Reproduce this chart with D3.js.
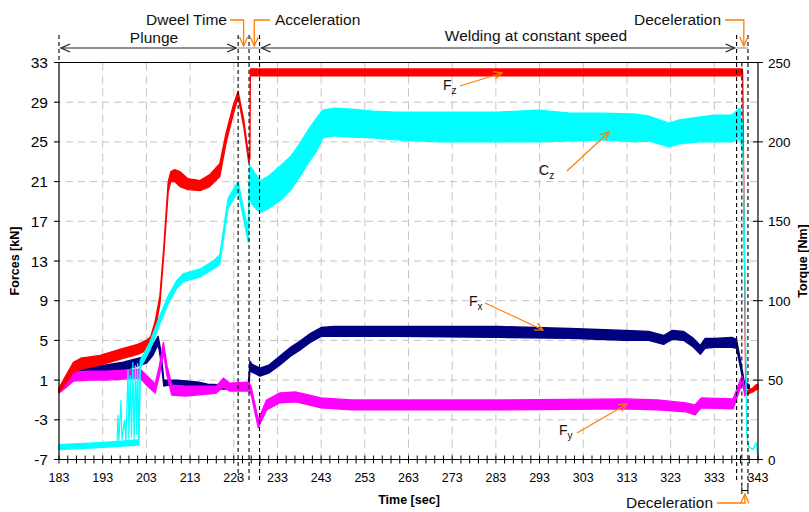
<!DOCTYPE html>
<html>
<head>
<meta charset="utf-8">
<script src="https://cdn.jsdelivr.net/npm/d3@7"></script>
<style>
  body { margin: 0; background: #fff; }
  text { font-family: "Liberation Sans", Arial, sans-serif; }
</style>
</head>
<body>
<div id="chart"></div>
<script>
// time ticks, force ticks, torque ticks
var timeTicks = [183, 193, 203, 213, 223, 233, 243, 253, 263, 273, 283, 293, 303, 313, 323, 333, 343]
var forceTicks = [-7, -3, 1, 5, 9, 13, 17, 21, 25, 29, 33]
var torqueTicks = [0, 50, 100, 150, 200, 250]

// phase boundaries [sec]
var phaseTimes = [224, 226.5, 228.9, 338.1, 339.3, 340.7]

// series: [time, low, high]  (forces in kN, Cz in Nm)
var fz = [[183,-0.2,0.2],[184,0.3,1.0],[186.3,1.8,2.8],[188,2.1,3.2],[192.4,2.5,3.5],[197.7,3.2,4.2],
  [201,3.6,4.6],[203,4.0,5.0],[204,4.5,5.4],[205,5.9,6.9],[206.1,8.7,9.5],[207,13.7,14.5],[208,20.0,21.0],
  [208.6,21.0,22.0],[209.5,21.0,22.2],[210.7,20.5,22.0],[212.5,20.2,21.3],[215.3,20.1,21.1],[217.5,20.5,21.7],
  [219.8,21.5,22.8],[221.3,25.0,26.0],[222.9,27.8,28.7],[224,29.5,30.1],[225.3,26.5,27.2],[226.4,23.0,23.6],
  [226.7,23.3,24.0],[226.8,31.65,32.35],[260,31.65,32.35],[300,31.65,32.35],[339.4,31.65,32.35],
  [339.5,31.8,31.8],[340.2,-0.5,-0.1],[340.8,-0.4,0.0],[341.8,-0.2,0.2],[342.5,0.0,0.5],[343,0.1,0.6]]

var fx = [[183,-0.2,0.2],[184.5,0.7,1.2],[186,1.0,1.6],[188.6,1.3,2.1],[192,1.6,2.4],[197.7,2.0,2.8],
  [201,2.4,3.2],[203,2.7,3.4],[204.5,3.5,4.5],[205.7,4.6,5.4],[206.3,3.0,4.0],[207,0.4,1.0],[208,0.5,1.0],
  [210,0.3,1.0],[215,0.2,0.8],[217,0.1,0.6],[222,0.1,0.5],[226.3,0.1,0.5],[226.5,0.5,1.5],[226.7,1.9,2.9],
  [227.2,1.8,2.6],[229,1.4,2.2],[231,1.7,2.5],[233.5,2.5,3.4],[236,3.4,4.3],[238.1,4.0,4.9],[240.5,4.8,5.7],
  [243,5.4,6.3],[246,5.4,6.4],[260,5.4,6.4],[283.7,5.3,6.4],[300,5.2,6.2],[312.7,5.0,6.0],[318,5.0,5.9],
  [321.4,4.6,5.5],[323.3,5.1,6.0],[326,5.0,5.9],[328,4.4,5.3],[329.8,3.6,4.5],[330.9,4.2,5.2],[333,4.3,5.2],
  [337,4.3,5.3],[338.1,4.2,5.1],[339.6,0.9,1.5],[339.8,0.4,0.9],[341,0.1,0.5]]

var fy = [[183,-0.3,0.1],[184.5,0.2,0.9],[186.3,0.9,1.8],[190,1.0,1.9],[193.9,1.0,1.9],[198,1.1,2.0],
  [201.6,1.2,2.1],[203,0.5,1.5],[205,-0.3,0.6],[206,1.5,2.5],[206.9,3.8,4.8],[207.7,1.5,2.5],[208.8,-0.5,0.5],
  [212,-0.6,0.4],[217,-0.4,0.4],[219,-0.3,0.4],[220.6,0.3,1.2],[222,-0.1,0.7],[226.4,-0.1,0.8],[227,-0.5,0.3],
  [228.6,-3.8,-3.0],[230.5,-2.0,-1.0],[233.5,-1.3,-0.3],[237.3,-1.2,-0.2],[243,-1.8,-0.8],[250,-2.0,-1.0],
  [283.7,-2.0,-1.0],[312.7,-1.9,-0.9],[320,-2.0,-1.0],[326.5,-2.2,-1.3],[328.6,-2.5,-1.5],[330,-1.8,-0.8],
  [337.3,-1.9,-0.9],[339.3,0.6,1.4],[339.6,0.4,1.0],[340,-0.6,0.0]]

var cz = [[183,6.3,9.4],[190,7.2,10.3],[196,8.1,11.3],[201.3,9.1,12.5],[201.6,57.5,62.5],[203.8,68.8,73.8],
  [206.1,85.6,90.6],[208,98.1,103.1],[209.9,107.5,112.5],[211.4,111.9,116.9],[215.3,115,120],[218.3,120,125],
  [219.8,123.1,128.8],[221.7,158.1,164.4],[224,168.8,175],[226.3,136.9,143.8],[226.6,165.6,185.6],
  [227.2,160.5,183.1],[229,155.5,175.4],[231,158,178.5],[233.5,163,184.5],[236,169.6,190.8],[238.1,178,198.9],
  [240,186.5,207.3],[241.9,194,214.8],[243.4,202.5,220],[246,203.8,221.3],[250,203.1,220.6],[254.8,202.5,219.4],
  [260,201.3,218.8],[270,200,218.8],[283.7,200,218.8],[292.9,200,220],[300,200.6,218.1],[308.1,201.3,218.1],
  [315,200,217.5],[318,200.6,216.3],[322.6,196.9,211.9],[325,198.8,213.8],[329.4,200,215.6],[333,200,216.9],
  [337,200,216.9],[338.9,201.9,221.3],[339.3,196.9,209.4],[339.4,214,214],[339.8,156.9,156.9],[340,111.3,111.3],
  [340.2,68.8,68.8],[340.4,16.9,16.9],[340.8,8.1,8.1],[341.9,6.3,6.3],[342.5,10.6,10.6],[342.7,9.4,9.4],[342.9,2.5,2.5]]

// early noisy Cz spikes [time, Nm]
var czSpikes = [[196.3,10.6],[196.5,28.1],[196.7,11.3],[197.2,37.5],[197.4,12.5],[198,25],[198.3,11.3],
  [198.8,56.3],[199,12.5],[199.3,53.1],[199.6,13.8],[199.9,61.3],[200.2,11.9],[200.5,59.4],[200.8,15.6],
  [201,60.6],[201.3,12.5],[201.6,60]]

var W = 809, H = 512

var svg = d3.select("#chart").append("svg")
  .attr("width", W)
  .attr("height", H)

var x = d3.scaleLinear().domain([183, 343]).range([59, 758])
var y = d3.scaleLinear().domain([-7, 33]).range([459.5, 62.5])
var yR = d3.scaleLinear().domain([0, 250]).range([459.5, 62.5])

var orange = "#ff7f00"
var grid = "#c4c4c4"

// gridlines
svg.append("g").selectAll("line")
  .data(forceTicks.filter(function(d) { return d > -7 && d < 33 }))
  .enter().append("line")
  .attr("x1", x(183) - 5).attr("x2", x(343))
  .attr("y1", function(d) { return y(d) }).attr("y2", function(d) { return y(d) })
  .attr("stroke", grid).attr("stroke-dasharray", "7,5")

svg.append("g").selectAll("line")
  .data(timeTicks.filter(function(d) { return d > 183 && d < 343 }))
  .enter().append("line")
  .attr("x1", function(d) { return x(d) }).attr("x2", function(d) { return x(d) })
  .attr("y1", y(33)).attr("y2", y(-7))
  .attr("stroke", grid).attr("stroke-dasharray", "8,5")

// series
function drawBand(data, color, scale) {
  var area = d3.area()
    .x(function(d) { return x(d[0]) })
    .y0(function(d) { return scale(d[1]) })
    .y1(function(d) { return scale(d[2]) })
  svg.append("path")
    .datum(data)
    .attr("d", area)
    .attr("fill", color)
    .attr("stroke", color)
    .attr("stroke-width", 1.3)
    .attr("stroke-linejoin", "round")
}

drawBand(fx, "#000080", y)
drawBand(fy, "#ff00ff", y)
drawBand(fz, "#ff0000", y)
drawBand(cz, "#00ffff", yR)

svg.append("path")
  .datum(czSpikes)
  .attr("d", d3.line().x(function(d) { return x(d[0]) }).y(function(d) { return yR(d[1]) }))
  .attr("fill", "none")
  .attr("stroke", "#00ffff")
  .attr("stroke-width", 1.2)

// axes frame
var frame = svg.append("g").attr("stroke", "#000").attr("stroke-width", 1.2)
frame.append("line").attr("x1", x(183)).attr("x2", x(343) + 4).attr("y1", y(33)).attr("y2", y(33))
frame.append("line").attr("x1", x(183)).attr("x2", x(343)).attr("y1", y(-7)).attr("y2", y(-7))
frame.append("line").attr("x1", x(183)).attr("x2", x(183)).attr("y1", y(33)).attr("y2", y(-7))
frame.append("line").attr("x1", x(343)).attr("x2", x(343)).attr("y1", y(33)).attr("y2", y(-7))

// left ticks
svg.append("g").selectAll("line")
  .data(forceTicks).enter().append("line")
  .attr("x1", x(183) - 5).attr("x2", x(183))
  .attr("y1", function(d) { return y(d) }).attr("y2", function(d) { return y(d) })
  .attr("stroke", "#000")
svg.append("g").selectAll("text")
  .data(forceTicks).enter().append("text")
  .attr("x", x(183) - 11)
  .attr("y", function(d) { return y(d) + 5.5 })
  .attr("text-anchor", "end")
  .attr("font-size", 15.5)
  .text(function(d) { return d })

// right ticks
svg.append("g").selectAll("line")
  .data(torqueTicks).enter().append("line")
  .attr("x1", x(343) - 5).attr("x2", x(343) + 5)
  .attr("y1", function(d) { return yR(d) }).attr("y2", function(d) { return yR(d) })
  .attr("stroke", "#000")
svg.append("g").selectAll("text")
  .data(torqueTicks).enter().append("text")
  .attr("x", x(343) + 10)
  .attr("y", function(d) { return yR(d) + 5 })
  .attr("font-size", 13.5)
  .text(function(d) { return d })

// bottom ticks (every 2 s)
svg.append("g").selectAll("line")
  .data(d3.range(183, 344, 2)).enter().append("line")
  .attr("x1", function(d) { return x(d) }).attr("x2", function(d) { return x(d) })
  .attr("y1", y(-7) - 4).attr("y2", y(-7) + 4)
  .attr("stroke", "#000")
svg.append("g").selectAll("text")
  .data(timeTicks).enter().append("text")
  .attr("x", function(d) { return x(d) })
  .attr("y", y(-7) + 22)
  .attr("text-anchor", "middle")
  .attr("font-size", 12.5)
  .text(function(d) { return d })

// axis titles
svg.append("text")
  .attr("transform", "translate(19," + y(13) + ") rotate(-90)")
  .attr("text-anchor", "middle")
  .attr("font-size", 12.5).attr("font-weight", "bold")
  .text("Forces [kN]")
svg.append("text")
  .attr("transform", "translate(807," + yR(125) + ") rotate(-90)")
  .attr("text-anchor", "middle")
  .attr("font-size", 12.5).attr("font-weight", "bold")
  .text("Torque [Nm]")
svg.append("text")
  .attr("x", 409).attr("y", 504)
  .attr("text-anchor", "middle")
  .attr("font-size", 12.5).attr("font-weight", "bold")
  .text("Time [sec]")

// phase lines
var dash = svg.append("g").attr("stroke", "#000").attr("stroke-width", 1.1).attr("stroke-dasharray", "4,3")
dash.append("line").attr("x1", x(183)).attr("x2", x(183)).attr("y1", 35).attr("y2", y(33))
phaseTimes.forEach(function(t, i) {
  var top = (i === 4) ? y(33) : 35
  var bottom = (i === 3) ? 480 : (i > 3 ? 490 : 482)
  dash.append("line").attr("x1", x(t)).attr("x2", x(t)).attr("y1", top).attr("y2", bottom)
})

// top arrows
var arrowY = 48
function chevron(g, tx, ty, dir, color) {
  // dir: 1 = points right, -1 = left, 2 = down, -2 = up
  var p
  if (dir === 1) p = [[tx - 9, ty - 4], [tx, ty], [tx - 9, ty + 4]]
  else if (dir === -1) p = [[tx + 9, ty - 4], [tx, ty], [tx + 9, ty + 4]]
  else if (dir === 2) p = [[tx - 4, ty - 9], [tx, ty], [tx + 4, ty - 9]]
  else p = [[tx - 4, ty + 9], [tx, ty], [tx + 4, ty + 9]]
  g.append("path").attr("d", d3.line()(p)).attr("fill", "none").attr("stroke", color).attr("stroke-width", 1.3)
}

var ann = svg.append("g")
ann.append("line").attr("x1", x(183) + 2).attr("x2", x(phaseTimes[0]) - 2).attr("y1", arrowY).attr("y2", arrowY)
  .attr("stroke", "#222")
chevron(ann, x(183) + 2, arrowY, -1, "#222")
chevron(ann, x(phaseTimes[0]) - 2, arrowY, 1, "#222")
ann.append("line").attr("x1", x(phaseTimes[0])).attr("x2", x(phaseTimes[2])).attr("y1", arrowY).attr("y2", arrowY)
  .attr("stroke", "#888")
ann.append("line").attr("x1", x(phaseTimes[2]) + 2).attr("x2", x(phaseTimes[3]) - 2).attr("y1", arrowY).attr("y2", arrowY)
  .attr("stroke", "#222")
chevron(ann, x(phaseTimes[2]) + 2, arrowY, -1, "#222")
chevron(ann, x(phaseTimes[3]) - 2, arrowY, 1, "#222")
ann.append("line").attr("x1", x(phaseTimes[3])).attr("x2", x(phaseTimes[5])).attr("y1", arrowY).attr("y2", arrowY)
  .attr("stroke", "#888")

function label(txt, lx, ly, anchor) {
  ann.append("text").attr("x", lx).attr("y", ly).attr("text-anchor", anchor || "start")
    .attr("font-size", 15.5).attr("fill", "#111").text(txt)
}
label("Plunge", 154, 43, "middle")
label("Welding at constant speed", 536, 41, "middle")
label("Dweel Time", 146, 25)
label("Acceleration", 275, 25)
label("Deceleration", 634, 25)
label("Deceleration", 626, 508)

// orange leaders
function leader(pts, dir) {
  ann.append("path").attr("d", d3.line()(pts)).attr("fill", "none").attr("stroke", orange).attr("stroke-width", 1.3)
  var e = pts[pts.length - 1]
  chevron(ann, e[0], e[1], dir, orange)
}
var xDwell = (x(phaseTimes[0]) + x(phaseTimes[1])) / 2
var xAcc = (x(phaseTimes[1]) + x(phaseTimes[2])) / 2
var xDec = (x(phaseTimes[4]) + x(phaseTimes[5])) / 2
leader([[230, 20], [xDwell, 20], [xDwell, 46]], 2)
leader([[270, 20], [xAcc, 20], [xAcc, 46]], 2)
leader([[725, 20], [x(phaseTimes[4]) + 2, 20], [x(phaseTimes[4]) + 2, 46]], 2)
leader([[717, 503], [xDec, 503], [xDec, 494]], -2)

// bottom deceleration bracket
var br = svg.append("g").attr("stroke", "#000")
br.append("line").attr("x1", x(phaseTimes[4])).attr("x2", x(phaseTimes[5])).attr("y1", 490.5).attr("y2", 490.5)
br.append("line").attr("x1", x(phaseTimes[4])).attr("x2", x(phaseTimes[4])).attr("y1", 487).attr("y2", 494)
br.append("line").attr("x1", x(phaseTimes[5])).attr("x2", x(phaseTimes[5])).attr("y1", 487).attr("y2", 494)

// series labels
function seriesLabel(main, sub, lx, ly, from, to) {
  var t = ann.append("text").attr("x", lx).attr("y", ly).attr("font-size", 14).attr("fill", "#111")
  t.append("tspan").text(main)
  t.append("tspan").attr("font-size", 10).attr("dy", 4).text(sub)
  ann.append("line").attr("x1", from[0]).attr("y1", from[1]).attr("x2", to[0]).attr("y2", to[1])
    .attr("stroke", orange).attr("stroke-width", 1.2)
  var a = Math.atan2(to[1] - from[1], to[0] - from[0])
  var p = [[to[0] - 9 * Math.cos(a - 0.45), to[1] - 9 * Math.sin(a - 0.45)], to,
           [to[0] - 9 * Math.cos(a + 0.45), to[1] - 9 * Math.sin(a + 0.45)]]
  ann.append("path").attr("d", d3.line()(p)).attr("fill", "none").attr("stroke", orange).attr("stroke-width", 1.2)
}
seriesLabel("F", "z", 443, 90, [460, 86], [502, 73])
seriesLabel("C", "z", 539, 175, [567, 171], [609, 132])
seriesLabel("F", "x", 469, 306, [485, 303], [543, 330])
seriesLabel("F", "y", 559, 435, [577, 433], [627, 404])
</script>
</body>
</html>
